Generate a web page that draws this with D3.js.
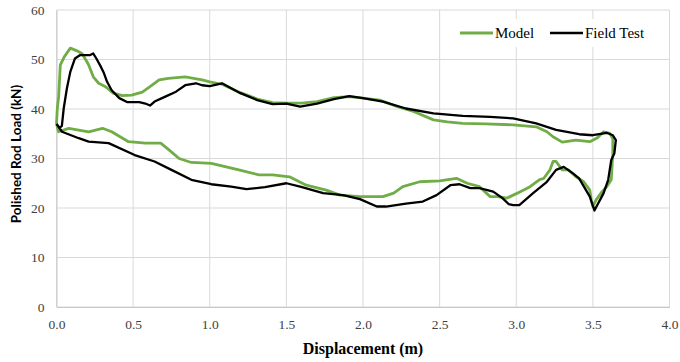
<!DOCTYPE html>
<html><head><meta charset="utf-8">
<script src="https://cdn.jsdelivr.net/npm/d3@7"></script>
<style>body{margin:0;background:#fff}svg{display:block}</style>
</head><body>
<svg id="c" width="680" height="362"></svg>
<script>
const xTicks = [0, 0.5, 1.0, 1.5, 2.0, 2.5, 3.0, 3.5, 4.0];
const yTicks = [0, 10, 20, 30, 40, 50, 60];
const seriesNames = ["Model", "Field Test"];

const modelX = [0.0,0.005,0.014,0.025,0.05,0.09,0.13,0.166,0.19,0.21,0.24,0.275,0.32,0.37,0.43,0.49,0.56,0.61,0.67,0.73,0.84,0.95,1.0,1.08,1.2,1.31,1.41,1.5,1.6,1.7,1.81,1.91,2.0,2.11,2.22,2.33,2.46,2.55,2.65,2.8,2.98,3.13,3.2,3.24,3.30,3.39,3.48,3.53,3.57,3.61,3.63,3.63,3.62,3.59,3.56,3.52,3.50,3.49,3.48,3.44,3.39,3.34,3.30,3.26,3.24,3.22,3.18,3.15,3.09,3.02,2.98,2.94,2.88,2.83,2.76,2.68,2.61,2.5,2.37,2.26,2.2,2.13,1.98,1.85,1.76,1.63,1.52,1.41,1.32,1.19,1.01,0.88,0.80,0.74,0.68,0.58,0.47,0.36,0.30,0.21,0.08,0.014,0.0];
const modelY = [37.0,40,42.5,48.9,50.5,52.3,51.8,51.2,50,48.9,46.5,45.2,44.5,43.2,42.7,42.8,43.4,44.5,45.9,46.2,46.5,45.9,45.5,45.0,43.3,42.0,41.3,41.2,41.2,41.5,42.3,42.5,42.2,41.8,40.5,39.5,37.8,37.4,37.1,37.0,36.8,36.4,35.4,34.4,33.3,33.7,33.4,34.2,35.4,35.1,34.0,31.0,25.7,24.3,23.3,21.6,20.3,21.5,23.6,25.3,26.3,27.7,27.7,29.4,29.4,27.7,26.0,25.7,24.3,23.2,22.6,22.0,22.3,22.3,24.3,25.0,26.0,25.5,25.3,24.3,23.0,22.3,22.3,22.6,23.6,24.6,26.3,26.7,26.7,27.7,29.0,29.2,30.0,31.6,33.1,33.1,33.4,35.4,36.1,35.4,36.1,35.4,37.0];

const fieldX = [0.0,0.02,0.035,0.047,0.068,0.09,0.12,0.155,0.22,0.24,0.26,0.29,0.31,0.33,0.36,0.41,0.46,0.54,0.58,0.61,0.64,0.71,0.78,0.84,0.91,0.95,1.0,1.08,1.2,1.31,1.41,1.5,1.59,1.70,1.81,1.91,2.0,2.13,2.28,2.46,2.65,2.83,2.98,3.13,3.26,3.41,3.50,3.59,3.63,3.65,3.64,3.62,3.60,3.57,3.51,3.48,3.41,3.37,3.31,3.26,3.20,3.11,3.02,2.98,2.95,2.91,2.85,2.76,2.70,2.63,2.57,2.48,2.39,2.28,2.15,2.09,1.98,1.87,1.74,1.59,1.50,1.36,1.24,1.14,1.01,0.88,0.75,0.64,0.51,0.34,0.21,0.145,0.036,0.0];
const fieldY = [37.0,36.2,36.6,40.1,44.2,47.5,50.2,50.9,50.9,51.2,50.2,48.5,47.2,45.5,43.8,42.2,41.4,41.4,41.1,40.7,41.5,42.5,43.5,44.8,45.2,44.8,44.6,45.2,43.2,41.8,41.0,41.1,40.5,41.1,42.0,42.6,42.2,41.5,40.1,39.1,38.6,38.4,38.1,37.1,35.8,34.9,34.7,35.2,34.7,33.7,31.0,29.7,25.7,23.0,19.5,22.3,26.0,27.0,28.3,27.7,25.3,23.0,20.6,20.6,20.8,22.0,23.3,24.0,24.0,24.8,24.6,22.6,21.3,20.9,20.3,20.3,21.8,22.6,23.0,24.3,25.0,24.2,23.8,24.3,24.8,25.7,27.7,29.4,30.7,33.1,33.4,34.1,35.4,37.0];

const colors = ["#70ad47", "#000000"];

const svg = d3.select("#c");
const x = d3.scaleLinear().domain([0, 4]).range([56.5, 669.5]);
const y = d3.scaleLinear().domain([0, 60]).range([307, 10]);

// gridlines
svg.append("g").selectAll("line").data(yTicks).join("line")
  .attr("x1", x(0)).attr("x2", x(4))
  .attr("y1", d => y(d)).attr("y2", d => y(d))
  .attr("stroke", "#d9d9d9").attr("stroke-width", 1);
svg.append("g").selectAll("line").data(xTicks).join("line")
  .attr("y1", y(0)).attr("y2", y(60))
  .attr("x1", d => x(d)).attr("x2", d => x(d))
  .attr("stroke", "#d9d9d9").attr("stroke-width", 1);

// axes
const xAxis = d3.axisBottom(x).tickValues(xTicks).tickFormat(d3.format(".1f")).tickSize(0).tickPadding(12);
const gx = svg.append("g").attr("transform", `translate(0,${y(0)})`).call(xAxis);
gx.select(".domain").attr("stroke", "#c8c8c8");
gx.selectAll("text").attr("font-family", "Liberation Serif, Times New Roman, serif").attr("font-size", 13.5).attr("fill", "#404040");

const yAxis = d3.axisLeft(y).tickValues(yTicks).tickSize(0).tickPadding(12);
const gy = svg.append("g").attr("transform", `translate(${x(0)},0)`).call(yAxis);
gy.select(".domain").attr("stroke", "#c8c8c8");
gy.selectAll("text").attr("font-family", "Liberation Serif, Times New Roman, serif").attr("font-size", 13.5).attr("fill", "#404040");

// lines
const line = d3.line().x(d => x(d[0])).y(d => y(d[1]));
const series = [d3.zip(modelX, modelY), d3.zip(fieldX, fieldY)];
const widths = [2.8, 2.3];
series.forEach((s, i) => {
  svg.append("path").datum(s).attr("d", line)
    .attr("fill", "none").attr("stroke", colors[i]).attr("stroke-width", widths[i])
    .attr("stroke-linejoin", "round");
});

// legend
const lg = svg.append("g");
lg.append("rect").attr("x", 455).attr("y", 19).attr("width", 210).attr("height", 28).attr("fill", "#fff");
const legX = [460, 550];
seriesNames.forEach((n, i) => {
  lg.append("line").attr("x1", legX[i]).attr("x2", legX[i] + 33).attr("y1", 33).attr("y2", 33)
    .attr("stroke", colors[i]).attr("stroke-width", widths[i]);
  lg.append("text").attr("x", legX[i] + 35).attr("y", 38).text(n)
    .attr("font-family", "Liberation Serif, Times New Roman, serif").attr("font-size", 15).attr("fill", "#000");
});

// titles
svg.append("text").attr("x", 363).attr("y", 354).attr("text-anchor", "middle")
  .attr("font-family", "Liberation Serif, Times New Roman, serif").attr("font-weight", "bold").attr("font-size", 16)
  .text("Displacement (m)");
svg.append("text").attr("transform", "translate(21,154) rotate(-90)").attr("text-anchor", "middle")
  .attr("font-family", "Lato, Liberation Sans, sans-serif").attr("font-weight", "bold").attr("font-size", 13.5)
  .text("Polished Rod Load (kN)");
</script>
</body></html>
